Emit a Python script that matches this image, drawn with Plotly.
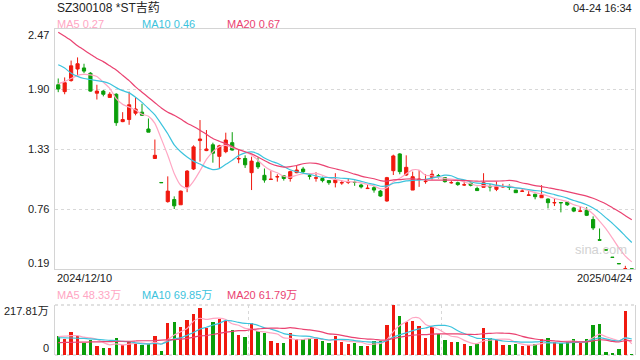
import plotly.graph_objects as go

# ---------------- data ----------------
opens = [1.94, 1.875, 1.98, 2.09, 2.10, 2.05, 1.86, 1.88, 1.82, 1.85,
         1.59, 1.61, 1.67, 1.68, 1.52, 1.24, 1.012, 0.83, 0.85, 0.80,
         0.97, 1.14, 1.41, 1.315, 1.37, 1.26, 1.305, 1.39, 1.235, 1.24,
         1.105, 1.20, 1.08, 1.04, 1.065, 1.075, 1.05, 1.105, 1.14, 1.075,
         1.053, 1.05, 1.03, 1.01, 1.008, 1.014, 1.015, 0.988, 0.954, 0.963,
         0.93, 0.836, 1.124, 1.283, 1.083, 0.94, 1.04, 1.02, 1.06, 1.076,
         1.058, 1.009, 1.01, 0.988, 1.005, 0.955, 0.966, 0.974, 0.947, 0.97,
         0.968, 0.94, 0.928, 0.89, 0.90, 0.867, 0.855, 0.818, 0.822, 0.826,
         0.77, 0.738, 0.747, 0.66, 0.468, 0.372, 0.302, 0.242, 0.19, 0.191]
highs = [2.00, 2.01, 2.17, 2.20, 2.14, 2.06, 1.94, 1.89, 1.87, 1.86,
         1.68, 1.875, 1.82, 1.76, 1.62, 1.42, 1.012, 1.07, 0.88, 0.935,
         1.13, 1.365, 1.605, 1.51, 1.39, 1.37, 1.485, 1.49, 1.32, 1.27,
         1.257, 1.25, 1.145, 1.12, 1.09, 1.08, 1.124, 1.17, 1.16, 1.10,
         1.11, 1.067, 1.035, 1.10, 1.035, 1.05, 1.03, 1.0, 0.99, 0.98,
         0.94, 1.065, 1.276, 1.29, 1.27, 1.115, 1.13, 1.09, 1.13, 1.093,
         1.06, 1.03, 1.02, 1.02, 1.01, 0.972, 1.10, 1.0, 1.02, 1.0,
         0.995, 0.94, 0.955, 0.93, 0.905, 0.987, 0.86, 0.862, 0.822, 0.83,
         0.78, 0.78, 0.778, 0.69, 0.575, 0.372, 0.302, 0.242, 0.22, 0.191]
lows = [1.87, 1.85, 1.97, 2.03, 2.05, 1.875, 1.80, 1.83, 1.82, 1.55,
        1.585, 1.56, 1.65, 1.645, 1.49, 1.24, 1.01, 0.82, 0.76, 0.80,
        0.92, 1.13, 1.21, 1.31, 1.20, 1.15, 1.29, 1.315, 1.195, 1.15,
        0.94, 1.14, 1.01, 1.04, 1.02, 1.03, 1.02, 1.10, 1.10, 1.04,
        1.02, 1.013, 0.99, 0.965, 0.99, 0.997, 0.98, 0.955, 0.95, 0.915,
        0.876, 0.83, 1.083, 1.09, 1.074, 0.94, 0.97, 1.0, 1.04, 1.05,
        1.01, 1.0, 0.98, 0.98, 0.975, 0.933, 0.965, 0.927, 0.93, 0.96,
        0.94, 0.915, 0.925, 0.887, 0.852, 0.865, 0.766, 0.788, 0.728, 0.79,
        0.73, 0.73, 0.693, 0.56, 0.464, 0.37, 0.30, 0.24, 0.19, 0.19]
closes = [1.90, 1.96, 2.12, 2.14, 2.07, 1.88, 1.88, 1.85, 1.85, 1.58,
          1.61, 1.75, 1.71, 1.65, 1.49, 1.27, 1.01, 0.93, 0.79, 0.93,
          1.12, 1.35, 1.425, 1.33, 1.29, 1.36, 1.415, 1.32, 1.24, 1.18,
          1.215, 1.16, 1.035, 1.043, 1.067, 1.05, 1.115, 1.13, 1.115, 1.072,
          1.056, 1.03, 1.01, 1.035, 1.01, 1.017, 1.012, 0.97, 0.957, 0.94,
          0.883, 1.058, 1.264, 1.115, 1.156, 1.067, 1.043, 1.023, 1.09, 1.073,
          1.02, 1.011, 0.992, 0.99, 0.985, 0.935, 1.01, 0.97, 0.979, 0.972,
          0.965, 0.915, 0.93, 0.893, 0.877, 0.893, 0.82, 0.821, 0.819, 0.80,
          0.74, 0.741, 0.70, 0.58, 0.464, 0.37, 0.30, 0.24, 0.192, 0.19]

ma5 = [1.95, 1.97, 2.00, 2.03, 2.038, 2.034, 2.018, 1.964, 1.906, 1.808,
       1.754, 1.728, 1.70, 1.66, 1.642, 1.574, 1.426, 1.27, 1.098, 0.986,
       0.956, 1.024, 1.123, 1.231, 1.303, 1.351, 1.364, 1.343, 1.325, 1.303,
       1.274, 1.223, 1.166, 1.127, 1.104, 1.071, 1.062, 1.081, 1.095, 1.096,
       1.098, 1.081, 1.057, 1.041, 1.028, 1.02, 1.017, 1.009, 0.993, 0.979,
       0.952, 0.962, 1.02, 1.052, 1.095, 1.132, 1.129, 1.081, 1.076, 1.059,
       1.05, 1.043, 1.037, 1.017, 1.0, 0.983, 0.982, 0.978, 0.976, 0.973,
       0.979, 0.96, 0.952, 0.935, 0.916, 0.902, 0.883, 0.861, 0.846, 0.831,
       0.80, 0.784, 0.76, 0.712, 0.645, 0.571, 0.483, 0.391, 0.313, 0.258]
ma10 = [2.13, 2.10, 2.05, 2.02, 2.00, 1.99, 1.98, 1.97, 1.95, 1.913,
        1.884, 1.863, 1.822, 1.773, 1.715, 1.654, 1.567, 1.475, 1.369, 1.304,
        1.255, 1.215, 1.187, 1.155, 1.135, 1.144, 1.184, 1.223, 1.268, 1.293,
        1.303, 1.284, 1.245, 1.216, 1.194, 1.163, 1.133, 1.114, 1.101, 1.09,
        1.074, 1.061, 1.059, 1.058, 1.052, 1.049, 1.039, 1.023, 1.007, 0.994,
        0.976, 0.979, 1.005, 1.013, 1.027, 1.032, 1.035, 1.041, 1.054, 1.067,
        1.081, 1.076, 1.049, 1.037, 1.019, 1.006, 1.003, 0.998, 0.987, 0.976,
        0.971, 0.961, 0.955, 0.945, 0.935, 0.93, 0.911, 0.897, 0.881, 0.863,
        0.841, 0.823, 0.80, 0.769, 0.728, 0.676, 0.624, 0.565, 0.503, 0.442]
ma20 = [2.44, 2.40, 2.36, 2.31, 2.27, 2.23, 2.19, 2.16, 2.12, 2.08,
        2.03, 1.98, 1.92, 1.87, 1.82, 1.77, 1.72, 1.68, 1.65, 1.614,
        1.575, 1.544, 1.509, 1.469, 1.43, 1.404, 1.381, 1.354, 1.324, 1.304,
        1.284, 1.254, 1.221, 1.19, 1.169, 1.158, 1.163, 1.173, 1.19, 1.197,
        1.193, 1.177, 1.157, 1.142, 1.128, 1.111, 1.091, 1.073, 1.059, 1.047,
        1.03, 1.025, 1.037, 1.04, 1.045, 1.046, 1.042, 1.037, 1.035, 1.035,
        1.034, 1.033, 1.032, 1.03, 1.028, 1.024, 1.024, 1.024, 1.025, 1.027,
        1.031, 1.024, 1.007, 0.996, 0.982, 0.973, 0.962, 0.952, 0.939, 0.925,
        0.911, 0.897, 0.883, 0.862, 0.836, 0.808, 0.772, 0.736, 0.697, 0.657]

volumes = [82.8, 69.7, 100.2, 82.8, 53.7, 65.3, 39.2, 31.9, 31.9, 72.6,
           43.6, 58.1, 47.9, 43.6, 47.9, 82.8, 17.4, 140.8, 145.2, 120.6,
           152.5, 178.6, 203.3, 119.1, 145.2, 156.8, 149.5, 108.9, 87.1, 77.0,
           137.9, 106.0, 97.2, 62.4, 53.7, 53.7, 94.4, 68.2, 68.2, 72.6,
           68.2, 61.0, 50.8, 82.8, 56.6, 47.9, 50.8, 39.2, 39.2, 61.0,
           61.0, 130.7, 217.81, 169.9, 145.2, 148.1, 126.3, 75.5, 120.6, 91.5,
           65.3, 56.6, 56.6, 47.9, 39.2, 47.9, 117.6, 72.6, 65.3, 42.1,
           43.6, 47.9, 39.2, 43.6, 47.9, 68.2, 72.6, 56.6, 50.8, 56.6,
           68.2, 50.8, 69.7, 130.7, 135.0, 11.6, 7.3, 26.1, 191.7, 3.0]
vma5 = [80, 82, 84, 84, 77.8, 74.3, 68.2, 54.6, 44.4, 48.2,
        43.8, 47.6, 50.8, 53.2, 48.2, 56.1, 47.9, 66.5, 86.8, 101.4,
        115.3, 147.5, 160.0, 154.8, 159.7, 160.6, 154.8, 135.9, 129.5, 115.9,
        112.1, 103.4, 101.0, 96.1, 91.4, 74.6, 72.3, 66.5, 67.6, 71.4,
        74.3, 67.6, 64.2, 67.1, 63.9, 59.8, 57.8, 55.5, 46.7, 47.6,
        50.2, 66.2, 101.9, 128.1, 144.9, 162.3, 161.5, 133.0, 123.1, 112.4,
        95.8, 81.9, 78.1, 63.6, 53.1, 49.6, 61.8, 65.0, 68.5, 69.1,
        68.2, 54.3, 47.6, 43.3, 44.4, 49.4, 54.3, 57.8, 59.2, 61.0,
        61.0, 56.6, 59.2, 75.2, 90.9, 79.6, 70.9, 62.1, 74.3, 48.3]
vma10 = [75, 75, 74, 73, 72, 70, 68, 66, 64, 63.0,
         59.1, 57.9, 52.7, 48.8, 48.2, 50.0, 47.8, 58.7, 70.0, 74.8,
         85.7, 97.7, 113.3, 120.8, 130.6, 138.0, 151.2, 148.0, 142.2, 137.8,
         136.3, 129.1, 118.5, 112.8, 103.7, 93.3, 87.8, 83.8, 81.9, 81.4,
         74.5, 70.0, 65.3, 67.4, 67.7, 67.1, 62.7, 59.8, 56.9, 55.8,
         55.0, 62.0, 78.7, 87.4, 96.3, 106.3, 113.8, 117.5, 125.6, 128.7,
         129.1, 121.7, 105.6, 93.4, 82.8, 72.7, 71.9, 71.6, 66.1, 61.1,
         58.9, 58.1, 56.3, 55.9, 56.8, 58.8, 54.3, 52.7, 51.3, 52.7,
         55.2, 55.5, 58.5, 67.2, 75.9, 70.3, 63.7, 60.7, 74.8, 69.6]
vma20 = [54, 55, 55, 56, 56, 57, 57, 58, 58, 59,
         60, 60, 61, 62, 62, 63, 65, 66, 67, 68.9,
         72.4, 77.8, 83.0, 84.8, 89.4, 94.0, 99.5, 103.3, 106.1, 106.3,
         111.0, 113.4, 115.9, 116.8, 117.1, 115.6, 119.5, 115.9, 112.0, 109.6,
         105.4, 99.5, 91.9, 90.1, 85.7, 80.2, 75.3, 71.8, 69.4, 68.6,
         64.7, 66.0, 72.0, 77.4, 82.0, 86.7, 88.3, 88.6, 91.3, 92.2,
         92.1, 91.8, 92.1, 90.4, 89.5, 89.5, 92.9, 94.5, 95.8, 94.9,
         94.0, 89.9, 80.9, 74.6, 69.8, 65.8, 63.1, 62.1, 58.7, 56.9,
         57.1, 56.8, 57.4, 61.6, 66.3, 64.5, 59.0, 56.7, 63.0, 61.2]

price_ticks = [2.47, 1.90, 1.33, 0.76, 0.19]
price_labels = ["2.47", "1.90", "1.33", "0.76", "0.19"]
vol_ticks = [217.81, 0]
vol_labels = ["217.81万", "0"]
month_marks = [29.5, 59.5]

title_text = "SZ300108 *ST吉药"
time_text = "04-24 16:34"
start_date = "2024/12/10"
end_date = "2025/04/24"
ma_legend = ["MA5 0.27", "MA10 0.46", "MA20 0.67"]
vma_legend = ["MA5 48.33万", "MA10 69.85万", "MA20 61.79万"]

# ---------------- styling ----------------
W, H = 640, 360
RED = "#f0190f"
GREEN = "#0a9e0a"
C5, C10, C20 = "#ffa6c3", "#3cc3dd", "#ea4271"
BORDER = "#d4d4d4"
GRID = "#d8d8d8"
TXT = "#222222"
FONT = "Arial, 'Liberation Sans', 'Noto Sans CJK SC', sans-serif"

XL, XR = 55, 635
M_TOP, M_BOT = 29, 269
V_TOP, V_BOT = 305, 355

def px(x):
    return x / W

def py(y):
    return 1 - y / H

n = len(closes)
idx = list(range(n))

fig = go.Figure()

fig.add_trace(go.Candlestick(
    x=idx, open=opens, high=highs, low=lows, close=closes,
    increasing=dict(line=dict(color=RED, width=1), fillcolor=RED),
    decreasing=dict(line=dict(color=GREEN, width=1), fillcolor=GREEN),
    whiskerwidth=0, xaxis="x", yaxis="y", showlegend=False, hoverinfo="skip"))

for vals, col in [(ma5, C5), (ma10, C10), (ma20, C20)]:
    fig.add_trace(go.Scatter(x=idx, y=vals, mode="lines",
                             line=dict(color=col, width=1.2, shape="spline", smoothing=0.6),
                             xaxis="x", yaxis="y", showlegend=False, hoverinfo="skip"))

bar_colors = [RED if c >= o else GREEN for o, c in zip(opens, closes)]
fig.add_trace(go.Bar(x=idx, y=volumes, marker=dict(color=bar_colors, line=dict(width=0)),
                     width=0.52, xaxis="x2", yaxis="y2", showlegend=False, hoverinfo="skip"))

for vals, col in [(vma5, C5), (vma10, C10), (vma20, C20)]:
    fig.add_trace(go.Scatter(x=idx, y=vals, mode="lines",
                             line=dict(color=col, width=1.2, shape="spline", smoothing=0.6),
                             xaxis="x2", yaxis="y2", showlegend=False, hoverinfo="skip"))

xr = [-0.5, n - 0.5]
fig.update_layout(
    width=W, height=H, margin=dict(l=0, r=0, t=0, b=0),
    paper_bgcolor="white", plot_bgcolor="white",
    font=dict(family=FONT, size=11, color=TXT),
    xaxis=dict(domain=[px(XL), px(XR)], range=xr, anchor="y", showticklabels=False,
               showgrid=False, zeroline=False, showline=True, mirror=True,
               linecolor=BORDER, linewidth=1, rangeslider=dict(visible=False), ticks=""),
    yaxis=dict(domain=[py(M_BOT), py(M_TOP)], range=[price_ticks[-1], price_ticks[0]],
               anchor="x", tickvals=price_ticks, showticklabels=False, showgrid=True,
               gridcolor=GRID, griddash="dot", gridwidth=1, zeroline=False,
               showline=True, mirror=True, linecolor=BORDER, linewidth=1, ticks=""),
    xaxis2=dict(domain=[px(XL), px(XR)], range=xr, anchor="y2", showticklabels=False,
                tickvals=month_marks, showgrid=True, gridcolor=GRID, griddash="dot",
                zeroline=False, showline=False, ticks=""),
    yaxis2=dict(domain=[py(V_BOT), py(V_TOP)], range=[vol_ticks[-1], vol_ticks[0]],
                anchor="x2", showticklabels=False, showgrid=False, zeroline=False,
                showline=True, mirror=True, linecolor=BORDER, linewidth=1, ticks=""),
    bargap=0,
)

# dotted top/bottom edges of the volume panel
for yy in [0, 1]:
    fig.add_shape(type="line", xref="x2 domain", yref="y2 domain", x0=0, x1=1, y0=yy, y1=yy,
                  line=dict(color=GRID, width=1.5, dash="dot"), layer="below")

ann = []
def text(x, y, s, anchor="left", color=TXT, size=11):
    ann.append(dict(x=px(x), y=py(y), xref="paper", yref="paper", text=s, showarrow=False,
                    xanchor=anchor, yanchor="middle", font=dict(family=FONT, size=size, color=color)))

text(XL, 8, title_text, size=12)
text(XR - 1, 8, time_text, anchor="right")
for s, x, c in zip(ma_legend, [XL, 140, 225], [C5, C10, C20]):
    text(x, 24.5, s, color=c)
for s, x, c in zip(vma_legend, [XL, 140, 225], [C5, C10, C20]):
    text(x, 294.5, s, color=c)
text(XL, 278, start_date)
text(XR - 1, 278, end_date, anchor="right")
text(601, 249, "sina.com", anchor="center", color="#d2d2d2", size=13)

# y tick labels (top/bottom labels sit just inside the frame)
for i, (v, lab) in enumerate(zip(price_ticks, price_labels)):
    shift = -6 if i == 0 else (6 if i == len(price_ticks) - 1 else 0)
    ann.append(dict(x=px(XL - 4), y=v, xref="paper", yref="y", text=lab, showarrow=False,
                    xanchor="right", yanchor="middle", yshift=shift,
                    font=dict(family=FONT, size=11, color=TXT)))
for i, (v, lab) in enumerate(zip(vol_ticks, vol_labels)):
    shift = -6 if i == 0 else 7
    ann.append(dict(x=px(XL - 4), y=v, xref="paper", yref="y2", text=lab, showarrow=False,
                    xanchor="right", yanchor="middle", yshift=shift,
                    font=dict(family=FONT, size=11, color=TXT)))

fig.update_layout(annotations=ann)
fig.write_html("out.html", config={"displayModeBar": False},
               post_script="document.body.style.margin='0';document.body.style.padding='0';")
